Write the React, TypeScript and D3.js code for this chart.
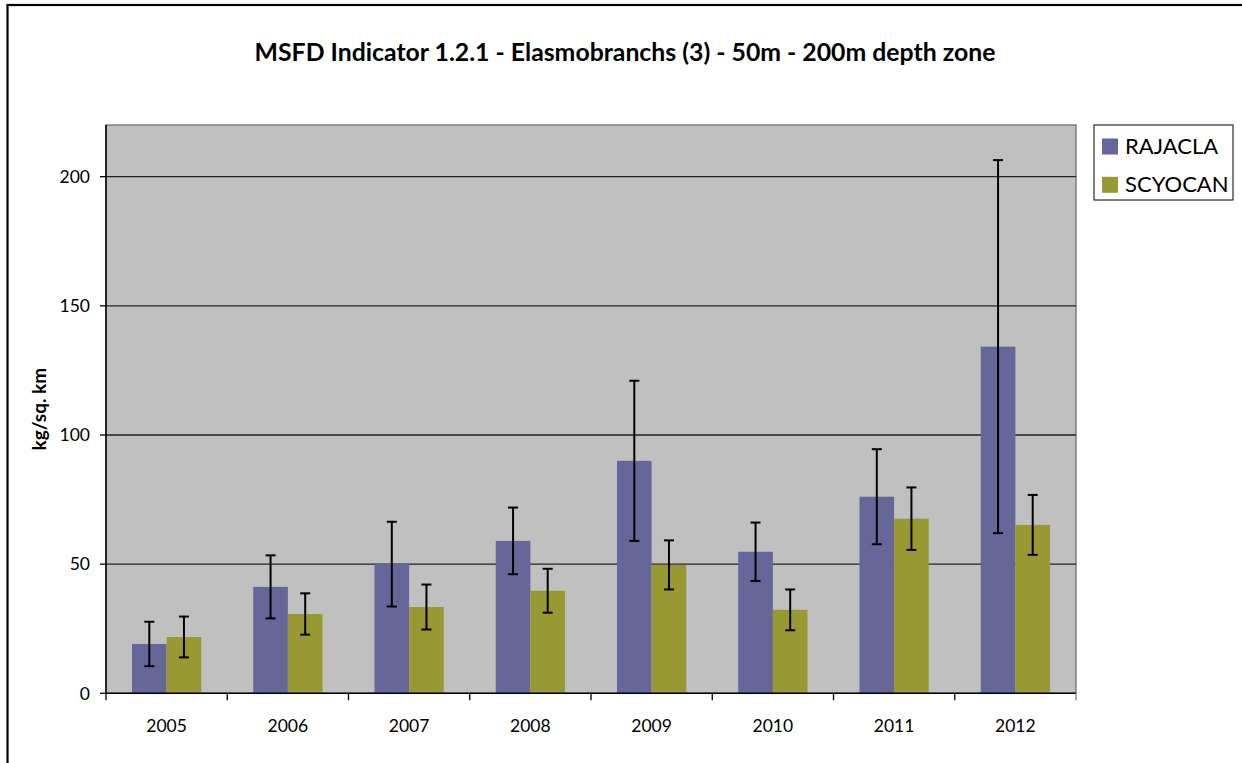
import * as d3 from 'd3';

const years = ['2005', '2006', '2007', '2008', '2009', '2010', '2011', '2012'];
const series = ['RAJACLA', 'SCYOCAN'];
const rajacla = [19.1, 41.2, 50.0, 59.0, 90.0, 54.8, 76.1, 134.2];
const rajaclaErr = [8.6, 12.2, 16.4, 12.9, 31.0, 11.3, 18.4, 72.2];
const scyocan = [21.8, 30.7, 33.4, 39.7, 49.7, 32.3, 67.6, 65.2];
const scyocanErr = [7.9, 8.0, 8.7, 8.5, 9.5, 7.9, 12.1, 11.6];
const yTicks = [0, 50, 100, 150, 200];
const colors = ['#666699', '#999933'];

const W = 1242;
const H = 763;
const plot = { left: 106, right: 1076, top: 125, bottom: 693.3 };
const font = 'Lato, "Open Sans", sans-serif';

export default function App() {
  const x0 = d3.scaleBand<string>().domain(years).range([plot.left, plot.right]).padding(0);
  const bw = x0.bandwidth() / 3.5;
  const x1 = d3.scaleBand<string>().domain(series).range([0, 2 * bw]).padding(0);
  const y = d3.scaleLinear().domain([0, 220]).range([plot.bottom, plot.top]);

  const values = [rajacla, scyocan];
  const errs = [rajaclaErr, scyocanErr];

  return (
    <svg width={W} height={H} style={{ position: 'absolute', left: 0, top: 0 }} fontFamily={font}>
      <rect x={0} y={0} width={W} height={H} fill="#fff" />
      <rect x={7.5} y={5} width={W + 20} height={H + 20} fill="none" stroke="#000" strokeWidth={2.2} />

      <text x={625} y={61} textAnchor="middle" fontWeight="bold" fontSize={24.8} fill="#000">
        MSFD Indicator 1.2.1 - Elasmobranchs (3) - 50m - 200m depth zone
      </text>

      {/* plot area */}
      <rect x={plot.left} y={plot.top} width={plot.right - plot.left} height={plot.bottom - plot.top} fill="#c0c0c0" stroke="#808080" strokeWidth={1.5} />

      {yTicks.filter(t => t > 0).map(t => (
        <line key={t} x1={plot.left} x2={plot.right} y1={y(t)} y2={y(t)} stroke="#222" strokeWidth={1.3} />
      ))}

      {years.map((yr, i) => {
        const gx = x0(yr)! + (x0.bandwidth() - 2 * bw) / 2;
        return (
          <g key={yr}>
            {series.map((s, j) => {
              const v = values[j][i];
              const e = errs[j][i];
              const bx = gx + x1(s)!;
              const cx = bx + bw / 2;
              return (
                <g key={s}>
                  <rect x={bx} y={y(v)} width={x1.bandwidth()} height={y(0) - y(v)} fill={colors[j]} />
                  <line x1={cx} x2={cx} y1={y(v + e)} y2={y(v - e)} stroke="#000" strokeWidth={2} />
                  <line x1={cx - 5} x2={cx + 5} y1={y(v + e)} y2={y(v + e)} stroke="#000" strokeWidth={2} />
                  <line x1={cx - 5} x2={cx + 5} y1={y(v - e)} y2={y(v - e)} stroke="#000" strokeWidth={2} />
                </g>
              );
            })}
          </g>
        );
      })}

      {/* y axis */}
      <line x1={plot.left} x2={plot.left} y1={plot.top} y2={plot.bottom} stroke="#000" strokeWidth={1.5} />
      {yTicks.map(t => (
        <g key={t}>
          <line x1={plot.left - 6} x2={plot.left} y1={y(t)} y2={y(t)} stroke="#000" strokeWidth={1.3} />
          <text x={90} y={y(t)} dy="0.36em" textAnchor="end" fontSize={17.5} fill="#000">{t}</text>
        </g>
      ))}

      {/* x axis */}
      <line x1={plot.left} x2={plot.right} y1={plot.bottom} y2={plot.bottom} stroke="#000" strokeWidth={1.5} />
      {years.map(yr => (
        <line key={yr} x1={x0(yr)!} x2={x0(yr)!} y1={plot.bottom} y2={plot.bottom + 7} stroke="#000" strokeWidth={1.3} />
      ))}
      <line x1={plot.right} x2={plot.right} y1={plot.bottom} y2={plot.bottom + 7} stroke="#808080" strokeWidth={1.3} />
      {years.map(yr => (
        <text key={yr} x={x0(yr)! + x0.bandwidth() / 2} y={731.5} textAnchor="middle" fontSize={17.5} fill="#000">{yr}</text>
      ))}

      <text transform={`translate(46,${(plot.top + plot.bottom) / 2}) rotate(-90)`} textAnchor="middle" fontWeight="bold" fontSize={19} fill="#000">
        kg/sq. km
      </text>

      {/* legend */}
      <rect x={1094} y={125} width={139} height={75} fill="#fff" stroke="#000" strokeWidth={1} />
      {series.map((s, j) => (
        <g key={s} transform={`translate(1102,${138.5 + j * 38.3})`}>
          <rect x={0} y={0} width={16} height={16} fill={colors[j]} />
          <text x={23} y={15.5} fontSize={22} fill="#000">{s}</text>
        </g>
      ))}
    </svg>
  );
}
